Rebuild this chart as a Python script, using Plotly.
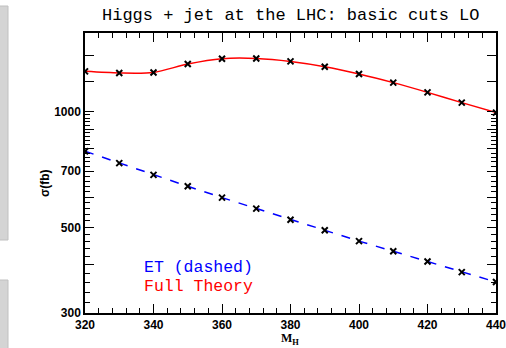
import plotly.graph_objects as go

mh = [320, 330, 340, 350, 360, 370, 380, 390, 400, 410, 420, 430, 440]
full_theory = [1272, 1260, 1264, 1329, 1372, 1374, 1350, 1308, 1252, 1189, 1122, 1055, 994]
et_dashed = [789, 735, 685, 640, 598, 560, 524, 492, 461, 434, 408, 383, 361]

x_major = [320, 340, 360, 380, 400, 420, 440]
x_minor = [v for v in range(320, 441, 4) if v not in x_major]
y_major = [300, 400, 500, 600, 700, 800, 900, 1000, 1200, 1400]
y_labels = {300: "300", 500: "500", 700: "700", 1000: "1000"}
y_minor = [v for v in range(300, 1001, 20) if v not in y_major]

W, H = 506, 348
L, R, T, B = 85, 10, 33, 35
pw, ph = W - L - R, H - T - B

def px(x):
    return (x - L) / pw

def py(y):
    return (H - B - y) / ph

fig = go.Figure()
fig.add_trace(go.Scatter(
    x=mh, y=et_dashed, mode="lines+markers",
    line=dict(color="#0000ff", width=1.5, dash="dash"),
    marker=dict(symbol="x-thin", size=6, color="black",
                line=dict(color="black", width=2)),
    showlegend=False))
fig.add_trace(go.Scatter(
    x=mh, y=full_theory, mode="lines+markers",
    line=dict(color="#ff0000", width=1.5, shape="spline", smoothing=0.8),
    marker=dict(symbol="x-thin", size=6, color="black",
                line=dict(color="black", width=2)),
    showlegend=False))

tickfont = dict(family="Liberation Sans, Arial", size=12, color="black")
fig.update_xaxes(
    range=[320, 440], showgrid=False, zeroline=False, automargin=False,
    showline=True, linecolor="black", linewidth=1.5, mirror="ticks",
    ticks="inside", ticklen=9, tickwidth=1.2, tickcolor="black",
    tickvals=x_major, ticktext=["<b>%d</b>" % v for v in x_major],
    tickfont=tickfont, ticklabeloverflow="allow",
    minor=dict(tickvals=x_minor, ticks="inside", ticklen=5, tickwidth=1, tickcolor="black"))
fig.update_yaxes(
    type="log", range=[2.4771, 3.2041], showgrid=False, zeroline=False, automargin=False,
    showline=True, linecolor="black", linewidth=1.5, mirror="ticks",
    ticks="inside", ticklen=9, tickwidth=1.2, tickcolor="black",
    tickvals=y_major, ticktext=["<b>%s</b>" % y_labels.get(v, "") for v in y_major],
    tickfont=tickfont, ticklabeloverflow="allow",
    minor=dict(tickvals=y_minor, ticks="inside", ticklen=5, tickwidth=1, tickcolor="black"))

mono = "Liberation Mono, Courier New, monospace"
ann = []
ann.append(dict(text="Higgs + jet at the LHC: basic cuts LO", x=px(290), y=py(15),
                xref="paper", yref="paper", showarrow=False,
                font=dict(family=mono, size=17, color="black"), xanchor="center", yanchor="middle"))
ann.append(dict(text="<b>σ(fb)</b>", x=px(45), y=py(183), xref="paper", yref="paper",
                showarrow=False, textangle=-90,
                font=dict(family="Liberation Sans, Arial", size=12, color="black"),
                xanchor="center", yanchor="middle"))
ann.append(dict(text="<b>M</b><sub><b>H</b></sub>", x=px(290), y=py(339), xref="paper", yref="paper",
                showarrow=False,
                font=dict(family="Liberation Serif, DejaVu Serif", size=12, color="black"),
                xanchor="center", yanchor="middle"))
ann.append(dict(text="ET (dashed)", x=px(142), y=py(267), xref="paper", yref="paper",
                showarrow=False, font=dict(family=mono, size=16.5, color="#0000ff"),
                xanchor="left", yanchor="middle"))
ann.append(dict(text="Full Theory", x=px(142), y=py(286), xref="paper", yref="paper",
                showarrow=False, font=dict(family=mono, size=16.5, color="#ff0000"),
                xanchor="left", yanchor="middle"))

shapes = [
    dict(type="rect", xref="paper", yref="paper", x0=px(-6), x1=px(8), y0=py(240), y1=py(6),
         fillcolor="#d4d4d4", line=dict(color="#c0c0c0", width=1), layer="below"),
    dict(type="rect", xref="paper", yref="paper", x0=px(-6), x1=px(8), y0=py(360), y1=py(280),
         fillcolor="#d4d4d4", line=dict(color="#c0c0c0", width=1), layer="below"),
]

fig.update_layout(
    width=W, height=H, margin=dict(l=L, r=R, t=T, b=B, pad=0, autoexpand=False),
    paper_bgcolor="white", plot_bgcolor="white",
    annotations=ann, shapes=shapes)

fig.write_html("out.html")
